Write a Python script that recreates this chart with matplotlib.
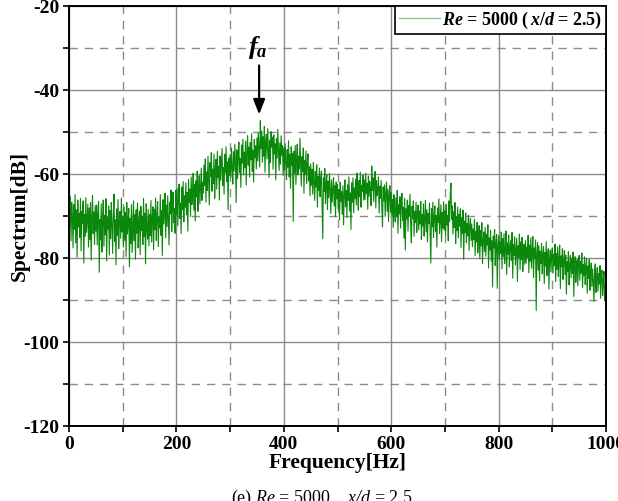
import numpy as np
import matplotlib
matplotlib.use("Agg")
import matplotlib.pyplot as plt
from matplotlib.ticker import MultipleLocator
from matplotlib.font_manager import FontProperties

# ---------------- data ----------------
freq_step_hz = 1.25
spectrum_db = [
    # 0 - 48.75 Hz
    -61.5, -72.8, -65.4, -75.9, -66.7, -70.1, -77.6, -67.3, -73.2, -64.9,
    -76.4, -68.5, -79.8, -66.2, -72.6, -69.4, -75.1, -65.8, -78.3, -68.9,
    -71.7, -66.4, -81.2, -69.6, -74.8, -65.6, -73.9, -70.8, -67.2, -77.4,
    -68.1, -75.6, -66.8, -80.5, -70.3, -65.1, -74.2, -69.0, -76.8, -67.5,
    # 50 - 98.75 Hz
    -73.6, -67.4, -76.9, -69.2, -66.5, -83.4, -70.8, -75.7, -67.1, -78.6,
    -71.3, -66.2, -77.2, -69.8, -74.5, -65.9, -80.7, -70.4, -73.1, -67.6,
    -79.3, -68.7, -75.4, -66.8, -72.2, -78.9, -69.5, -64.8, -76.1, -70.9,
    -81.6, -68.3, -74.7, -66.1, -77.8, -71.5, -68.9, -75.3, -65.7, -73.8,
    # 100 - 148.75 Hz
    -70.2, -77.4, -67.9, -75.8, -69.1, -79.6, -66.8, -74.3, -71.7, -68.2,
    -82.1, -70.6, -76.5, -67.3, -78.7, -72.4, -66.4, -75.9, -69.7, -80.3,
    -68.5, -74.1, -66.9, -77.6, -71.2, -68.8, -79.2, -67.7, -73.5, -70.1,
    -76.8, -65.8, -74.9, -69.3, -81.4, -67.1, -72.8, -75.5, -68.4, -77.1,
    # 150 - 198.75 Hz
    -69.6, -74.7, -66.3, -76.2, -70.5, -67.8, -78.1, -68.4, -73.3, -65.7,
    -75.8, -69.9, -66.6, -77.3, -70.2, -72.8, -64.9, -74.6, -68.7, -79.4,
    -66.1, -71.9, -69.3, -64.6, -75.2, -67.4, -72.5, -65.2, -70.8, -76.9,
    -66.7, -69.5, -63.8, -73.7, -67.9, -64.3, -71.6, -68.2, -74.1, -63.9,
    # 200 - 248.75 Hz
    -69.8, -63.5, -72.3, -65.8, -62.4, -70.6, -66.9, -74.2, -63.1, -68.5,
    -61.8, -71.4, -65.2, -67.9, -62.1, -69.7, -64.4, -73.6, -61.3, -66.8,
    -63.6, -70.1, -60.7, -67.3, -64.9, -59.8, -68.6, -62.5, -71.2, -61.6,
    -65.4, -59.3, -68.9, -63.2, -60.4, -67.1, -62.9, -58.6, -66.3, -61.9,
    # 250 - 298.75 Hz
    -64.5, -57.9, -62.8, -56.4, -66.7, -59.5, -63.9, -55.8, -61.2, -67.4,
    -57.3, -60.6, -54.9, -64.1, -58.8, -62.3, -55.2, -65.8, -59.1, -56.5,
    -63.6, -54.6, -60.9, -58.2, -66.2, -55.7, -61.5, -57.6, -53.9, -62.7,
    -58.4, -64.8, -55.3, -59.7, -53.5, -61.8, -57.1, -68.5, -56.2, -60.3,
    # 300 - 348.75 Hz
    -55.4, -60.9, -53.8, -58.6, -62.4, -54.7, -59.3, -52.9, -57.8, -66.8,
    -54.2, -61.1, -55.9, -52.4, -59.7, -56.3, -63.2, -53.1, -57.4, -51.7,
    -60.2, -54.8, -58.5, -52.2, -62.6, -55.1, -50.9, -57.9, -53.6, -60.7,
    -52.5, -56.6, -50.4, -59.4, -54.3, -61.9, -51.8, -56.1, -53.3, -58.8,
    # 350 - 398.75 Hz
    -51.4, -56.9, -50.2, -54.6, -58.3, -47.3, -53.9, -49.8, -57.2, -51.1,
    -55.8, -48.7, -59.6, -52.3, -50.5, -56.4, -49.2, -54.1, -60.8, -51.9,
    -57.3, -49.9, -53.6, -51.2, -58.9, -50.7, -55.2, -52.8, -61.4, -51.6,
    -56.2, -49.4, -54.4, -59.2, -52.6, -57.7, -50.9, -55.5, -53.2, -60.3,
    # 400 - 448.75 Hz
    -53.7, -59.1, -52.8, -57.6, -61.3, -54.2, -58.4, -52.1, -60.7, -55.3,
    -63.4, -53.5, -57.9, -55.1, -71.3, -54.6, -59.8, -53.2, -62.5, -56.4,
    -52.9, -60.2, -55.7, -58.8, -51.5, -57.3, -62.9, -55.9, -59.4, -53.8,
    -64.6, -56.7, -60.1, -54.5, -62.2, -57.4, -55.2, -61.6, -58.3, -65.2,
    # 450 - 498.75 Hz
    -57.6, -62.7, -58.9, -64.8, -57.2, -61.5, -66.3, -59.4, -63.1, -57.8,
    -67.9, -60.5, -63.9, -58.6, -65.4, -61.2, -59.3, -66.8, -75.4, -60.9,
    -64.2, -58.7, -67.1, -62.3, -60.1, -68.5, -61.7, -65.6, -59.9, -63.8,
    -69.4, -61.4, -66.7, -63.5, -60.8, -67.6, -62.8, -70.2, -61.9, -65.9,
    # 500 - 548.75 Hz
    -62.4, -68.3, -63.7, -70.9, -61.9, -66.5, -64.2, -69.6, -62.8, -72.1,
    -65.1, -61.4, -67.8, -63.9, -70.4, -62.6, -66.3, -60.7, -68.8, -64.5,
    -73.2, -62.1, -66.7, -60.9, -69.2, -63.3, -65.9, -61.2, -67.4, -59.8,
    -64.7, -68.6, -61.5, -65.4, -59.6, -67.9, -62.7, -64.1, -60.3, -66.2,
    # 550 - 598.75 Hz
    -61.4, -66.1, -59.8, -64.6, -62.2, -68.4, -60.5, -65.3, -61.7, -63.8,
    -67.5, -58.1, -63.9, -60.9, -66.6, -62.3, -59.4, -68.1, -61.6, -65.2,
    -63.4, -60.7, -69.3, -62.9, -65.8, -61.5, -67.7, -72.6, -63.1, -66.4,
    -62.6, -70.1, -64.7, -61.9, -68.9, -63.6, -71.3, -64.9, -62.8, -69.1,
    # 600 - 648.75 Hz
    -64.3, -69.8, -66.1, -72.7, -64.9, -68.6, -71.4, -65.7, -70.2, -63.9,
    -74.1, -67.2, -69.5, -65.4, -72.9, -66.8, -64.6, -71.1, -67.9, -75.3,
    -65.8, -78.1, -68.3, -70.7, -66.2, -73.6, -67.5, -69.9, -64.8, -72.2,
    -76.4, -67.7, -70.6, -66.4, -74.8, -68.9, -71.6, -66.7, -73.9, -69.2,
    # 650 - 698.75 Hz
    -67.4, -73.3, -68.8, -71.9, -66.5, -75.6, -69.7, -72.4, -67.1, -74.8,
    -70.9, -66.3, -73.7, -68.5, -76.2, -69.4, -71.8, -66.9, -74.5, -81.2,
    -68.2, -72.6, -66.7, -75.1, -70.3, -67.6, -73.8, -69.9, -77.4, -68.1,
    -71.5, -65.9, -74.2, -70.6, -67.3, -76.1, -69.1, -72.9, -66.6, -73.4,
    # 700 - 748.75 Hz
    -68.7, -74.6, -67.2, -72.1, -69.9, -75.9, -66.4, -71.3, -64.8, -62.2,
    -70.8, -67.6, -74.3, -68.9, -72.7, -66.8, -76.6, -70.2, -73.5, -67.9,
    -75.2, -69.6, -72.4, -68.3, -77.5, -70.4, -74.1, -68.6, -80.3, -71.2,
    -73.9, -69.3, -76.4, -71.8, -74.7, -69.8, -78.2, -72.5, -70.6, -75.8,
    # 750 - 798.75 Hz
    -71.9, -77.3, -73.1, -75.6, -70.8, -79.4, -73.7, -76.2, -71.5, -78.8,
    -74.6, -72.3, -80.2, -73.4, -77.1, -71.6, -81.3, -75.7, -73.8, -78.5,
    -72.7, -79.6, -74.3, -76.9, -72.1, -82.4, -75.2, -78.1, -73.5, -80.7,
    -75.9, -86.9, -74.8, -77.6, -73.2, -81.8, -76.5, -74.4, -87.2, -76.8,
    # 800 - 848.75 Hz
    -74.7, -80.3, -76.1, -78.9, -73.8, -82.6, -75.4, -79.7, -74.2, -81.3,
    -77.8, -73.6, -83.9, -76.4, -79.1, -74.5, -82.1, -77.2, -75.9, -80.6,
    -73.9, -84.8, -76.8, -79.4, -74.9, -81.7, -78.3, -75.3, -85.6, -77.1,
    -79.8, -74.3, -82.8, -76.2, -80.4, -75.1, -83.2, -78.6, -76.7, -81.5,
    # 850 - 898.75 Hz
    -75.8, -81.2, -77.4, -79.9, -74.6, -83.5, -76.9, -80.8, -75.2, -82.4,
    -78.3, -74.9, -84.7, -77.6, -80.1, -75.7, -92.5, -78.8, -76.3, -82.9,
    -77.1, -85.4, -78.4, -81.3, -76.5, -83.8, -79.2, -77.3, -86.1, -78.7,
    -81.9, -76.1, -84.2, -79.6, -77.8, -87.4, -80.3, -78.1, -83.3, -79.4,
    # 900 - 948.75 Hz
    -77.6, -83.4, -79.1, -81.8, -76.7, -85.6, -78.9, -82.7, -77.3, -84.4,
    -80.2, -76.9, -87.3, -79.5, -82.1, -77.8, -85.1, -80.7, -78.2, -83.9,
    -79.3, -88.6, -80.9, -83.2, -78.5, -86.4, -81.6, -79.4, -84.7, -80.1,
    -83.7, -78.6, -89.2, -81.4, -79.7, -85.8, -82.3, -80.4, -86.6, -81.1,
    # 950 - 998.75 Hz
    -79.4, -85.3, -80.8, -83.6, -78.8, -87.1, -81.5, -84.2, -79.7, -86.3,
    -82.2, -80.1, -88.4, -81.9, -84.9, -80.3, -87.7, -83.4, -81.2, -86.8,
    -82.6, -85.5, -90.4, -83.1, -81.4, -88.2, -84.6, -82.3, -87.9, -83.7,
    -86.2, -81.8, -89.6, -84.3, -82.9, -88.9, -85.4, -83.2, -90.1, -86.5,
    # 1000 Hz
    -92.3,
]
x_ticks = [0, 200, 400, 600, 800, 1000]
y_ticks = [-120, -100, -80, -60, -40, -20]
peak_freq_hz = 354
series_label = r"$Re$ = 5000 ($\,x/d$ = 2.5)"
caption = r"(e) $\mathsf{Re}$ = 5000    $\mathsf{x/d}$ = 2.5"

frequencies = np.arange(len(spectrum_db)) * freq_step_hz

# ---------------- style ----------------
plt.rcParams["font.family"] = ["Liberation Serif", "Noto Sans CJK SC"]
plt.rcParams["axes.unicode_minus"] = False
plt.rcParams["mathtext.fontset"] = "custom"
plt.rcParams["mathtext.it"] = "Liberation Serif:italic:bold"
plt.rcParams["mathtext.bf"] = "Liberation Serif:bold"
plt.rcParams["mathtext.rm"] = "Liberation Serif:bold"
plt.rcParams["mathtext.sf"] = "Liberation Serif:italic"

fig = plt.figure(figsize=(6.18, 5.01), dpi=100)
ax = fig.add_axes([0.1117, 0.1497, 0.8689, 0.8383])

ax.plot(frequencies, spectrum_db, color="#0b870b", lw=0.8, label=series_label)

ax.set_xlim(0, 1000)
ax.set_ylim(-120, -20)
ax.set_xticks(x_ticks)
ax.set_yticks(y_ticks)
ax.xaxis.set_minor_locator(MultipleLocator(100))
ax.yaxis.set_minor_locator(MultipleLocator(10))

ax.grid(which="major", color="#8c8c8c", lw=1.0, ls="-")
ax.grid(which="minor", color="#8c8c8c", lw=1.0, ls=(0, (6, 5)))
ax.set_axisbelow(True)

for s in ax.spines.values():
    s.set_linewidth(1.4)
    s.set_color("black")

ax.tick_params(which="both", direction="out", length=4, width=1.2,
               top=False, right=False, labelsize=14, pad=3)
for lab in ax.get_xticklabels() + ax.get_yticklabels():
    lab.set_fontweight("bold")

ax.set_xlabel("Frequency[Hz]", fontsize=15.5, fontweight="bold", labelpad=0)
ax.set_ylabel("Spectrum[dB]", fontsize=15.5, fontweight="bold")
ax.yaxis.set_label_coords(-0.073, 0.5)

leg = ax.legend(loc="upper right",
                prop=FontProperties(family=["Liberation Serif"], weight="bold", size=13),
                frameon=True, fancybox=False, edgecolor="black", framealpha=1,
                borderaxespad=0.0, handlelength=2.3, handletextpad=0.1, borderpad=0.2)
leg.get_frame().set_linewidth(1.2)
leg.get_lines()[0].set_color("#8cc88c")
leg.get_lines()[0].set_linewidth(1.0)

ax.annotate("", xy=(peak_freq_hz, -46.5), xytext=(peak_freq_hz, -33.5),
            arrowprops=dict(arrowstyle="-|>,head_length=0.9,head_width=0.35", color="black", lw=1.6))
ax.text(peak_freq_hz - 3, -31.5, r"$f_a$", fontsize=19, ha="center", va="baseline")

fig.text(0.52, 0.027, caption, fontsize=13, ha="center", va="top")

fig.savefig("out.png", dpi=100)
